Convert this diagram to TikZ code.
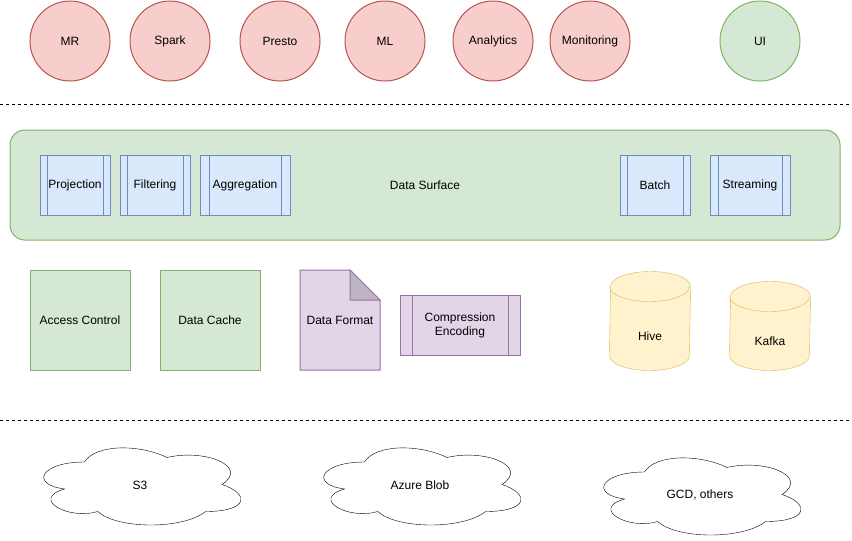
\documentclass[tikz,border=0pt]{standalone}
\usepackage{fontspec}
\setmainfont{Liberation Sans}
\usetikzlibrary{calc}
\usetikzlibrary{shapes}
\usetikzlibrary{backgrounds}
\definecolor{appfill}{HTML}{F8CECC}
\definecolor{appline}{HTML}{B85450}
\definecolor{grnfill}{HTML}{D5E8D4}
\definecolor{grnline}{HTML}{82B366}
\definecolor{blufill}{HTML}{DAE8FC}
\definecolor{bluline}{HTML}{6C8EBF}
\definecolor{prpfill}{HTML}{E1D5E7}
\definecolor{prpline}{HTML}{9673A6}
\colorlet{prpfold}{prpfill!85!black}
\definecolor{ylwfill}{HTML}{FFF2CC}
\definecolor{ylwline}{HTML}{D6B656}
\tikzset{dgp/.style={
  x=1pt,
  y=-1pt,
  line width=1pt,
  every node/.style={font=\fontsize{12}{14}\selectfont}
}}
\tikzset{app/.style={
  draw=appline,
  fill=appfill,
  shape=circle,
  minimum size=80pt,
  inner sep=0pt,
}}
\tikzset{uin/.style={app,draw=grnline,fill=grnfill}}
\tikzset{srf/.style={
  draw=grnline,
  fill=grnfill,
  rounded corners=15pt,
  minimum width=830pt,
  minimum height=110pt,
}}
\tikzset{prc/.style={path picture={
  \draw[#1]
    ($(path picture bounding box.north west)!0.1!(path picture bounding box.north east)$)
    -- ($(path picture bounding box.south west)!0.1!(path picture bounding box.south east)$);
  \draw[#1]
    ($(path picture bounding box.north east)!0.1!(path picture bounding box.north west)$)
    -- ($(path picture bounding box.south east)!0.1!(path picture bounding box.south west)$);
}}}
\tikzset{opn/.style={
  draw=bluline,
  fill=blufill,
  prc=bluline,
  minimum height=60pt,
  inner sep=0pt,
}}
\tikzset{ctl/.style={
  draw=grnline,
  fill=grnfill,
  minimum size=100pt,
}}
\tikzset{doc/.style={draw=prpline,fill=prpfill}}
\tikzset{fmt/.style={minimum width=80pt,minimum height=100pt}}
\tikzset{cmp/.style={
  draw=prpline,
  fill=prpfill,
  prc=prpline,
  align=center,
  minimum width=120pt,
  minimum height=60pt,
}}
\tikzset{cyl/.style={minimum width=80pt,inner sep=0pt}}
\tikzset{dbcap/.style={x radius=40pt,y radius=15pt}}
\tikzset{cld/.style={minimum width=220pt,minimum height=90pt}}
\tikzset{sep/.style={dash pattern=on 3pt off 3pt}}
% cloud outline in a unit box, y pointing down
\newcommand{\cldpath}{
  (0.25,0.25) .. controls (0.05,0.25) and (0,0.5) .. (0.16,0.55)
  .. controls (0,0.66) and (0.18,0.9) .. (0.31,0.8)
  .. controls (0.4,1) and (0.7,1) .. (0.8,0.8)
  .. controls (1,0.8) and (1,0.6) .. (0.875,0.5)
  .. controls (1,0.3) and (0.8,0.1) .. (0.625,0.2)
  .. controls (0.5,0.05) and (0.3,0.05) .. (0.25,0.25) -- cycle
}

\begin{document}
\begin{tikzpicture}[dgp]
    \useasboundingbox (0,0) rectangle (852,541);

    %% Engines on top

    \foreach \nm/\cx in {MR/70,Spark/170,Presto/280,ML/385,Analytics/493,Monitoring/590}
      \node[app] (\nm) at (\cx,41) {\nm};
    \node[uin] (ui) at (760,41) {UI};

    \draw[sep] (0,104) -- (850,104);

    %% Data surface

    \node[srf] (srf) at (425,185) {Data Surface};
    \node[opn,minimum width=70pt] (proj) at (75,185) {Projection};
    \node[opn,minimum width=70pt] (filt) at (155,185) {Filtering};
    \node[opn,minimum width=90pt] (aggr) at (245,185) {Aggregation};
    \node[opn,minimum width=70pt] (btch) at (655,185) {Batch};
    \node[opn,minimum width=80pt] (strm) at (750,185) {Streaming};

    %% Middle row

    \node[ctl] (acc) at (80,320) {Access Control};
    \node[ctl] (cch) at (210,320) {Data Cache};

    % Document with folded corner
    \draw[doc] (300,370) -- (300,270) -- (350,270) -- (380,300) -- (380,370) -- cycle;
    \draw[doc,fill=prpfold] (350,270) -- (350,300) -- (380,300) -- cycle;
    \node[fmt] (fmt) at (340,320) {Data Format};

    \node[cmp] (cmp) at (460,325) {Compression\\Encoding};
    % text sits in the body, below the top cap
    \node[cyl,minimum height=68pt] (hive) at (650,336) {Hive};
    \node[cyl,minimum height=58pt] (kfk) at (770,341) {Kafka};

    \begin{scope}[on background layer]
      % Cylinders
      \foreach \db in {hive,kfk} {
        \draw[ylwline,fill=ylwfill] ([yshift=15pt]\db.south west)
          arc[start angle=180,end angle=360,dbcap]
          -- ([yshift=15pt]\db.north east)
          arc[start angle=0,end angle=180,dbcap] -- cycle;
        \draw[ylwline] ([yshift=15pt]\db.north west)
          arc[start angle=180,end angle=360,dbcap];
      }
    \end{scope}

    \draw[sep] (0,420) -- (850,420);

    %% Storage clouds

    \node[cld] (s3) at (140,485) {S3};
    \node[cld] (azr) at (420,485) {Azure Blob};
    \node[cld] (gcd) at (700,495) {GCD, others};
    \begin{scope}[on background layer]
      \foreach \cl in {s3,azr,gcd}
        \draw[fill=white,shift={(\cl.north west)},x=220pt,y=-90pt] \cldpath;
    \end{scope}

\end{tikzpicture}
\end{document}
